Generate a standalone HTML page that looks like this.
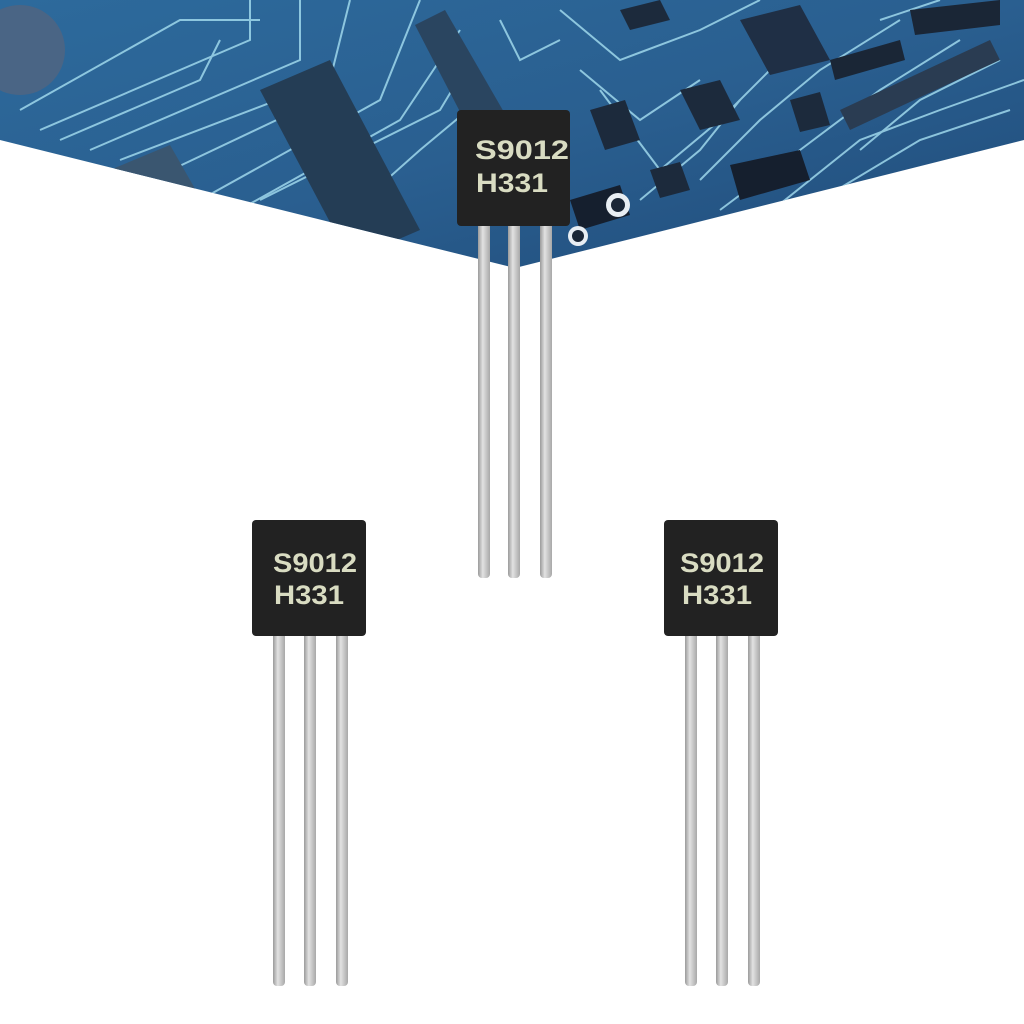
<!DOCTYPE html>
<html><head><style>
html,body{margin:0;padding:0;background:#fff;}
.wrap{position:relative;width:1024px;height:1024px;overflow:hidden;background:#fff;}
svg{position:absolute;left:0;top:0;}
</style></head><body><div class="wrap">
<svg width="1024" height="1024" viewBox="0 0 1024 1024">
<defs>
<clipPath id="cp"><polygon points="0,0 1024,0 1024,140 515,268 0,140"/></clipPath>
<linearGradient id="bg" x1="0" y1="0" x2="1" y2="1">
<stop offset="0" stop-color="#2d6a9c"/><stop offset="0.5" stop-color="#2a5f90"/><stop offset="1" stop-color="#1f4a78"/></linearGradient>
<linearGradient id="leg" x1="0" y1="0" x2="1" y2="0">
<stop offset="0" stop-color="#9a9a9a"/><stop offset="0.4" stop-color="#e2e2e2"/><stop offset="1" stop-color="#a8a8a8"/></linearGradient>
</defs>
<g clip-path="url(#cp)">
<rect width="1024" height="280" fill="url(#bg)"/>
<g stroke="#9fd8ec" stroke-width="2" fill="none" opacity="0.85">
<path d="M20,110 L180,20 L260,20"/><path d="M40,130 L250,40 L250,0"/>
<path d="M90,150 L300,60 L300,0"/><path d="M120,160 L330,80 L350,0"/>
<path d="M200,200 L380,100 L420,0"/><path d="M230,215 L400,120 L460,30"/>
<path d="M330,230 L420,150 L480,100"/><path d="M560,10 L620,60 L700,30 L760,0"/>
<path d="M580,70 L640,120 L700,80"/><path d="M600,90 L660,170 L720,120 L780,60"/>
<path d="M700,180 L760,120 L820,70 L900,20"/><path d="M720,210 L800,150 L880,90 L960,40"/>
<path d="M640,200 L700,150 L740,100"/><path d="M860,150 L920,100 L1000,60"/>
<path d="M880,20 L940,0"/><path d="M500,20 L520,60 L560,40"/>
<path d="M60,140 L200,80 L220,40"/><path d="M150,180 L340,90"/><path d="M260,200 L440,110 L470,60"/>
<path d="M760,220 L860,140 L940,110 L1024,80"/><path d="M820,200 L920,140 L1010,110"/>
</g>
<circle cx="20" cy="50" r="45" fill="#4a6585"/>
<polygon points="260,90 330,60 420,230 350,260" fill="#243d55"/>
<polygon points="415,25 445,10 520,140 485,160" fill="#2a4560"/>
<polygon points="110,170 170,145 210,215 150,240" fill="#3a5670"/>
<polygon points="740,20 800,5 830,60 770,75" fill="#1f2f45"/>
<polygon points="680,90 720,80 740,120 700,130" fill="#1c2a3c"/>
<polygon points="590,110 625,100 640,140 605,150" fill="#1c2a3c"/>
<polygon points="790,100 820,92 830,125 800,132" fill="#1c2a3c"/>
<polygon points="830,60 900,40 905,60 835,80" fill="#1a2636"/>
<polygon points="910,10 1000,0 1000,25 915,35" fill="#1a2636"/>
<polygon points="730,165 800,150 810,180 740,200" fill="#151f2e"/>
<polygon points="840,110 990,40 1000,60 850,130" fill="#2a3c52"/>
<polygon points="570,200 620,185 630,215 580,230" fill="#151f2e"/>
<polygon points="620,10 660,0 670,20 630,30" fill="#1c2a3c"/>
<polygon points="650,170 680,162 690,190 660,198" fill="#1c2a3c"/>
<circle cx="618" cy="205" r="12" fill="#e8eef3"/><circle cx="618" cy="205" r="7" fill="#1a2636"/>
<circle cx="578" cy="236" r="10" fill="#e8eef3"/><circle cx="578" cy="236" r="6" fill="#1a2636"/>
</g>
<g font-family="Liberation Sans, sans-serif" font-weight="bold" font-size="27" fill="#d9dcc2">
<g>
<rect x="478" y="222" width="12" height="356" rx="4" fill="url(#leg)"/>
<rect x="508" y="222" width="12" height="356" rx="4" fill="url(#leg)"/>
<rect x="540" y="222" width="12" height="356" rx="4" fill="url(#leg)"/>
<rect x="457" y="110" width="113" height="116" rx="4" fill="#222"/>
<text x="475" y="159" textLength="94" lengthAdjust="spacingAndGlyphs">S9012</text>
<text x="476" y="192" textLength="72" lengthAdjust="spacingAndGlyphs">H331</text>
</g>
<g>
<rect x="273" y="632" width="12" height="354" rx="4" fill="url(#leg)"/>
<rect x="304" y="632" width="12" height="354" rx="4" fill="url(#leg)"/>
<rect x="336" y="632" width="12" height="354" rx="4" fill="url(#leg)"/>
<rect x="252" y="520" width="114" height="116" rx="4" fill="#222"/>
<text x="273" y="572" textLength="84" lengthAdjust="spacingAndGlyphs">S9012</text>
<text x="274" y="604" textLength="70" lengthAdjust="spacingAndGlyphs">H331</text>
</g>
<g>
<rect x="685" y="632" width="12" height="354" rx="4" fill="url(#leg)"/>
<rect x="716" y="632" width="12" height="354" rx="4" fill="url(#leg)"/>
<rect x="748" y="632" width="12" height="354" rx="4" fill="url(#leg)"/>
<rect x="664" y="520" width="114" height="116" rx="4" fill="#222"/>
<text x="680" y="572" textLength="84" lengthAdjust="spacingAndGlyphs">S9012</text>
<text x="682" y="604" textLength="70" lengthAdjust="spacingAndGlyphs">H331</text>
</g>
</g>
</svg>
</div></body></html>
